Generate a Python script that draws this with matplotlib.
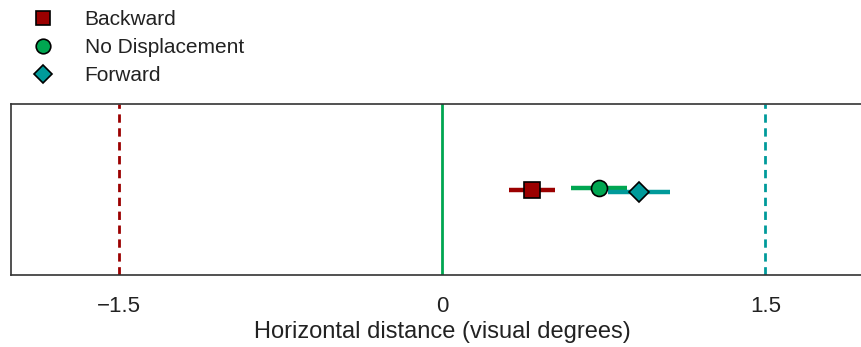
import matplotlib.pyplot as plt
from matplotlib.lines import Line2D

plt.rcParams['font.family'] = ['Liberation Sans', 'DejaVu Sans']

# condition means and error (visual degrees)
conditions = ['Backward', 'No Displacement', 'Forward']
means = [0.417, 0.727, 0.912]
errors = [0.107, 0.13, 0.144]
y_pos = [0.50, 0.51, 0.486]
colors = ['#9b0000', '#00a651', '#009a9a']
markers = ['s', 'o', 'D']
marker_sizes = [11.5, 11.5, 10.5]

# reference lines
ref_x = [-1.5, 0, 1.5]
ref_styles = ['--', '-', '--']
ref_colors = ['#9b0000', '#00a651', '#009a9a']

tick_vals = [-1.5, 0, 1.5]
tick_labels = ['\u22121.5', '0', '1.5']

fig = plt.figure(figsize=(8.62, 3.47), dpi=100)
ax = fig.add_axes([0.0128, 0.207, 1.0, 0.493])

for x, ls, c in zip(ref_x, ref_styles, ref_colors):
    ax.axvline(x, color=c, linestyle=ls, linewidth=2, dashes=(3, 2) if ls == '--' else (None, None))

for m, e, y, c, mk, ms in zip(means, errors, y_pos, colors, markers, marker_sizes):
    ax.errorbar(m, y, xerr=e, fmt=mk, color=c, ecolor=c, elinewidth=3.2,
                capsize=0, markersize=ms, markeredgecolor='black',
                markeredgewidth=1.2, zorder=3)

ax.set_xlim(-2, 2)
ax.set_ylim(0, 1)
ax.set_yticks([])
ax.set_xticks(tick_vals)
ax.set_xticklabels(tick_labels, fontsize=16)
ax.tick_params(axis='x', length=0, pad=15, colors='#222222')
ax.set_xlabel('Horizontal distance (visual degrees)', fontsize=17, color='#222222', labelpad=3)
for sp in ax.spines.values():
    sp.set_color('#333333')
    sp.set_linewidth(1.2)

handles = [Line2D([], [], linestyle='none', marker=mk, color=c, markersize=ms - 1,
                  markeredgecolor='black', markeredgewidth=1.2)
           for c, mk, ms in zip(colors, markers, marker_sizes)]
fig.legend(handles, conditions, loc='upper left', bbox_to_anchor=(0.01, 1.025),
           frameon=False, fontsize=15, handletextpad=1.25, labelspacing=0.44,
           handlelength=1.5, labelcolor='#222222')

fig.savefig('out.png', dpi=100)
